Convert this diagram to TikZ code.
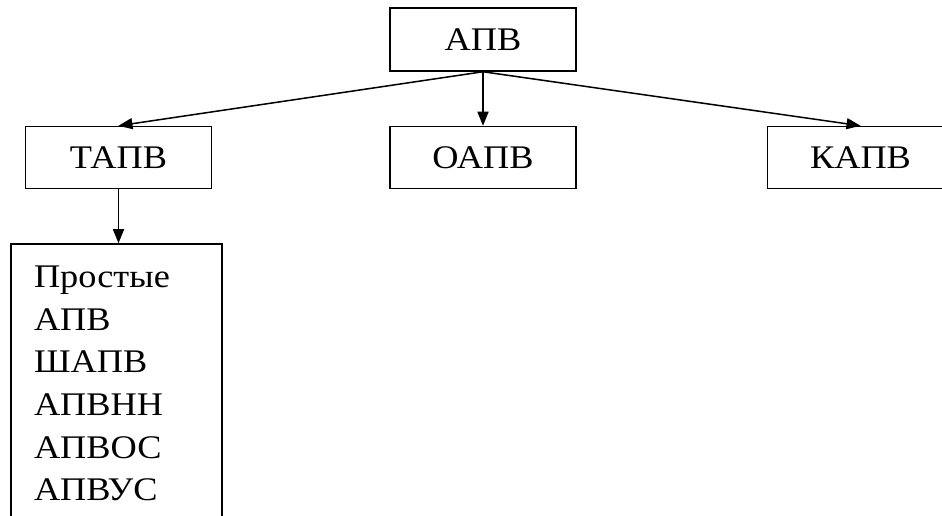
\documentclass[tikz,border=0pt]{standalone}
\usepackage{fontspec}
\setmainfont{Liberation Serif}[FakeStretch=1.1]
\usetikzlibrary{positioning,arrows.meta}
\tikzset{
  >={Triangle[length=14pt,width=11pt]},
  box/.style={
    draw,
    line width=1.5pt,
    inner sep=0pt,
    minimum width=186pt,
    minimum height=62pt,
    font=\fontsize{33}{42.6}\selectfont
  }
}

\begin{document}
\begin{tikzpicture}[x=1pt,y=1pt,node distance=54pt,line width=1.5pt]
  \useasboundingbox (0,0) rectangle (942,516);
  \node[box, minimum height=63pt] (apv) at (483,476.5) {АПВ};
  \node[box, below=of apv] (oapv) {ОАПВ};
  \node[box, left=177pt of oapv] (tapv) {ТАПВ};
  \node[box, right=190pt of oapv] (kapv) {КАПВ};
  \node[box, below=of tapv, xshift=-2pt, minimum width=211pt, minimum height=0pt,
        text width=165pt, align=left, inner xsep=23pt, inner ysep=22pt] (list)
       {Простые\\АПВ\\ШАПВ\\АПВНН\\АПВОС\\АПВУС\rule[-20pt]{0pt}{0pt}};

  \draw[->] (apv.south) -- (tapv.north);
  \draw[->] (apv.south) -- (oapv.north);
  \draw[->] (apv.south) -- (kapv.north);
  \draw[->] (tapv.south) -- (tapv.south |- list.north);
\end{tikzpicture}
\end{document}
